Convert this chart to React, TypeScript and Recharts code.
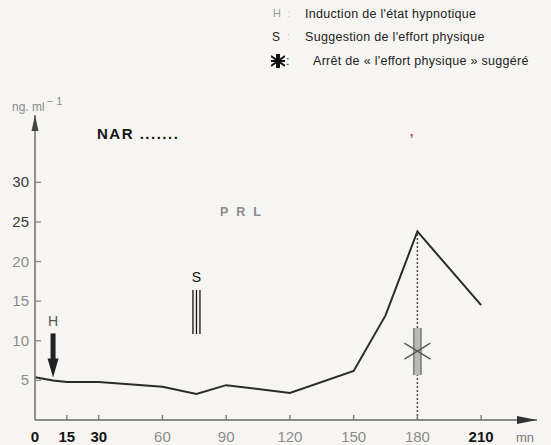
import React from "react";
import { LineChart, Line, XAxis, YAxis, ReferenceDot, ReferenceLine } from "recharts";

// ---- data ----
const timeMin = [0, 8.5, 15, 30, 60, 76, 90, 120, 150, 165, 180, 210];
const prlValues = [5.4, 5.0, 4.8, 4.8, 4.2, 3.3, 4.4, 3.4, 6.2, 13.2, 23.8, 14.5];
const xTicks = [0, 15, 30, 60, 90, 120, 150, 180, 210];
const yTicks = [5, 10, 15, 20, 25, 30];
const darkXTicks = [0, 15, 30, 210];
const darkYTicks = [25, 30];
const inductionTime = 8.5;
const inductionValue = 5.0;
const suggestionTime = 76;
const suggestionTop = 16.4;
const stopTime = 180;
const stopPeak = 23.8;
const stopMarkerValue = 8.7;
const xMax = 236.3;
const yMax = 38.5;

const data = timeMin.map((t, i) => ({ t, prl: prlValues[i] }));

const FONT = "'Liberation Sans', Arial, Helvetica, sans-serif";

const XTick = (props: any) => {
  const { x, y, payload } = props;
  const v = payload.value;
  const dark = darkXTicks.includes(v);
  return (
    <g>
      {v !== 0 && <line x1={x} y1={y} x2={x} y2={y - 5} stroke="#777" strokeWidth={1.3} />}
      <text
        x={x}
        y={y + 22}
        textAnchor="middle"
        fontSize={15}
        fontFamily={FONT}
        fontWeight={dark ? "bold" : "normal"}
        fill={dark ? "#151515" : "#8c8c8c"}
      >
        {v}
      </text>
    </g>
  );
};

const YTick = (props: any) => {
  const { x, y, payload } = props;
  const v = payload.value;
  const dark = darkYTicks.includes(v);
  return (
    <g>
      <line x1={x} y1={y} x2={x + 6} y2={y} stroke="#888" strokeWidth={1.3} />
      <text
        x={x - 6}
        y={y + 5}
        textAnchor="end"
        fontSize={15}
        fontFamily={FONT}
        fill={dark ? "#3a3a3a" : "#8c8c8c"}
      >
        {v}
      </text>
    </g>
  );
};

const XArrow = (p: any) => (
  <polygon points={`${p.cx},${p.cy} ${p.cx - 20},${p.cy - 4} ${p.cx - 20},${p.cy + 4}`} fill="#333" />
);
const YArrow = (p: any) => (
  <polygon points={`${p.cx},${p.cy} ${p.cx - 3.5},${p.cy + 16} ${p.cx + 3.5},${p.cy + 16}`} fill="#444" />
);

const HArrow = (p: any) => {
  const { cx, cy } = p;
  return (
    <g>
      <text x={cx} y={cy - 54} textAnchor="middle" fontSize={14} fontFamily={FONT} fill="#555">
        H
      </text>
      <rect x={cx - 2.5} y={cy - 47} width={5} height={26} fill="#222" />
      <polygon points={`${cx - 5.5},${cy - 22} ${cx + 5.5},${cy - 22} ${cx},${cy - 3}`} fill="#222" />
    </g>
  );
};

const SBars = (p: any) => {
  const { cx, cy } = p;
  return (
    <g>
      <text x={cx} y={cy - 8} textAnchor="middle" fontSize={14} fontFamily={FONT} fill="#111">
        S
      </text>
      <line x1={cx - 3.5} y1={cy} x2={cx - 3.5} y2={cy + 44} stroke="#111" strokeWidth={1.3} />
      <line x1={cx} y1={cy} x2={cx} y2={cy + 44} stroke="#111" strokeWidth={1.3} />
      <line x1={cx + 3.5} y1={cy} x2={cx + 3.5} y2={cy + 44} stroke="#111" strokeWidth={1.3} />
    </g>
  );
};

const StopMark = (p: any) => {
  const { cx, cy } = p;
  return (
    <g>
      <rect x={cx - 4.5} y={cy - 23} width={9} height={47} fill="#b9b9b6" />
      <line x1={cx - 3.5} y1={cy - 23} x2={cx - 3.5} y2={cy + 24} stroke="#777" strokeWidth={1.3} />
      <line x1={cx + 3.5} y1={cy - 23} x2={cx + 3.5} y2={cy + 24} stroke="#777" strokeWidth={1.3} />
      <line x1={cx - 13} y1={cy - 8} x2={cx + 13} y2={cy + 8} stroke="#555" strokeWidth={1.3} />
      <line x1={cx - 13} y1={cy + 8} x2={cx + 13} y2={cy - 8} stroke="#555" strokeWidth={1.3} />
    </g>
  );
};

const StarIcon = () => (
  <svg width={14} height={14} viewBox="0 0 14 14" style={{ display: "block" }}>
    <rect x={5} y={0} width={4} height={14} fill="#111" />
    <line x1={0} y1={2} x2={14} y2={12} stroke="#111" strokeWidth={2} />
    <line x1={0} y1={12} x2={14} y2={2} stroke="#111" strokeWidth={2} />
    <line x1={0} y1={7} x2={14} y2={7} stroke="#111" strokeWidth={2} />
  </svg>
);

const abs = (x: number, y: number, extra: React.CSSProperties = {}): React.CSSProperties => ({
  position: "absolute",
  left: x,
  top: y,
  whiteSpace: "nowrap",
  fontFamily: FONT,
  lineHeight: 1,
  ...extra,
});

const legendText: React.CSSProperties = { fontSize: 12.5, letterSpacing: 0.3, color: "#222" };

export default function App() {
  return (
    <div style={{ position: "absolute", left: 0, top: 0, width: 551, height: 445, background: "#f7f5f1", overflow: "hidden" }}>
      <LineChart width={551} height={445} data={data} margin={{ top: 115, right: 14, bottom: 24, left: 34 }}>
        <XAxis
          dataKey="t"
          type="number"
          domain={[0, xMax]}
          ticks={xTicks}
          interval={0}
          height={1}
          tickSize={0}
          tickMargin={0}
          tickLine={false}
          axisLine={{ stroke: "#666", strokeWidth: 1.6 }}
          tick={<XTick />}
          allowDataOverflow
        />
        <YAxis
          type="number"
          domain={[0, yMax]}
          ticks={yTicks}
          interval={0}
          width={1}
          tickSize={0}
          tickMargin={0}
          tickLine={false}
          axisLine={{ stroke: "#777", strokeWidth: 1.6 }}
          tick={<YTick />}
          allowDataOverflow
        />
        <ReferenceLine
          segment={[{ x: stopTime, y: 0 }, { x: stopTime, y: stopPeak }]}
          stroke="#555"
          strokeWidth={1.6}
          strokeDasharray="2 2"
          ifOverflow="visible"
        />
        <Line
          dataKey="prl"
          type="linear"
          stroke="#2b2b2b"
          strokeWidth={2}
          dot={false}
          isAnimationActive={false}
        />
        <ReferenceDot x={xMax} y={0} r={0} shape={<XArrow />} ifOverflow="visible" />
        <ReferenceDot x={0} y={yMax} r={0} shape={<YArrow />} ifOverflow="visible" />
        <ReferenceDot x={inductionTime} y={inductionValue} r={0} shape={<HArrow />} ifOverflow="visible" />
        <ReferenceDot x={suggestionTime} y={suggestionTop} r={0} shape={<SBars />} ifOverflow="visible" />
        <ReferenceDot x={stopTime} y={stopMarkerValue} r={0} shape={<StopMark />} ifOverflow="visible" />
      </LineChart>

      {/* legend */}
      <div style={abs(273, 8, { fontSize: 11, color: "#9a9a9a" })}>H</div>
      <div style={abs(287, 8, { fontSize: 11, color: "#ccc" })}>:</div>
      <div style={abs(305, 8, legendText)}>Induction de l'état hypnotique</div>
      <div style={abs(272, 31, { fontSize: 12, color: "#222" })}>S</div>
      <div style={abs(287, 31, { fontSize: 11, color: "#ccc" })}>:</div>
      <div style={abs(305, 31, legendText)}>Suggestion de l'effort physique</div>
      <div style={abs(271, 54)}>
        <StarIcon />
      </div>
      <div style={abs(286, 55, legendText)}>:</div>
      <div style={abs(313, 55, legendText)}>Arrêt de « l'effort physique » suggéré</div>

      {/* axis labels & annotations */}
      <div style={abs(12, 96, { fontSize: 12, color: "#8a8a8a" })}>
        ng. ml<sup style={{ fontSize: 11, verticalAlign: "6px", marginLeft: 2 }}>− 1</sup>
      </div>
      <div style={abs(97, 126, { fontSize: 15, fontWeight: "bold", color: "#151515", letterSpacing: 1.5 })}>NAR .......</div>
      <div style={abs(220, 206, { fontSize: 12.5, fontWeight: "bold", color: "#8a8a8a", letterSpacing: 8 })}>PRL</div>
      <div style={abs(516, 431, { fontSize: 13, color: "#777" })}>mn</div>
      <div style={abs(410, 126, { fontSize: 12, color: "#c0392b", fontWeight: "bold" })}>,</div>
    </div>
  );
}
